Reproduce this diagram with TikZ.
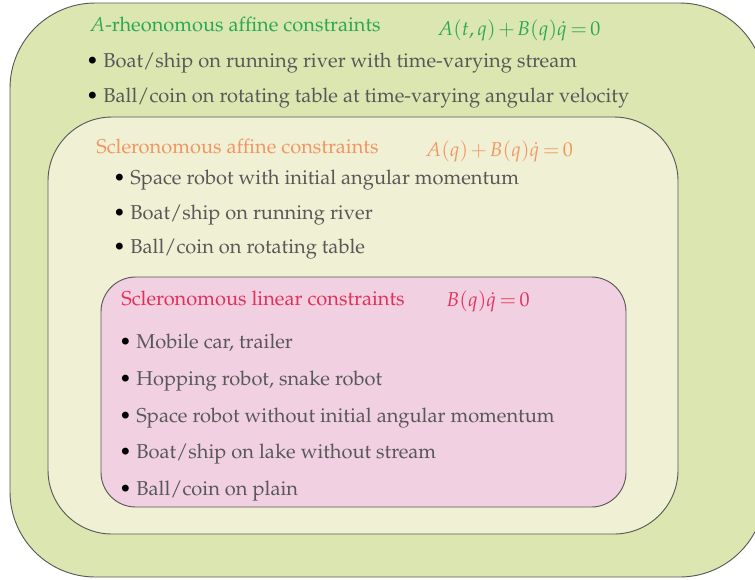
\documentclass[tikz,border=0pt]{standalone}
\usepackage[T1]{fontenc}
\usepackage{mathpazo}
\usepackage{tikz}

\definecolor{outerfill}{RGB}{220,230,176}
\definecolor{middlefill}{RGB}{240,240,212}
\definecolor{innerfill}{RGB}{240,208,225}
\definecolor{rheogreen}{RGB}{44,168,84}
\definecolor{sclorange}{RGB}{240,150,100}
\definecolor{sclred}{RGB}{228,48,88}
\definecolor{itemgray}{RGB}{88,88,88}

\tikzset{
  boxline/.style={draw=black!65, line width=0.7pt},
  title/.style={anchor=base west, inner sep=0pt, font=\fontsize{15.05}{18}\selectfont},
  formula/.style={title, execute at begin node={\medmuskip=2mu\thickmuskip=3mu}},
  entry/.style={anchor=base west, inner sep=0pt, text=itemgray, font=\fontsize{15.05}{18}\selectfont}
}

\begin{document}
\begin{tikzpicture}[x=0.75pt, y=-0.75pt]

        \useasboundingbox (0,0) rectangle (755,579);
        \clip (0,0) rectangle (755,579);

        %Boxes
        \draw [boxline, fill=outerfill, rounded corners=64pt] (10,3) rectangle (765,577);
        \draw [boxline, fill=middlefill, rounded corners=48pt] (48,117) rectangle (678,534);
        \draw [boxline, fill=innerfill, rounded corners=26pt] (101,277) rectangle (626,507);

        %Rheonomous affine constraints
        \node [title, text=rheogreen] (rheotitle) at (89,31) {$A$-rheonomous affine constraints};
        \node [formula, text=rheogreen] (rheoeq) at (437,35) {$A(t,q) + B(q)\dot{q} = 0$};
        \node [entry] (rheoa) at (86,67) {\textcolor{black}{\textbullet}\ Boat/ship on running river with time-varying stream};
        \node [entry] (rheob) at (86,102) {\textcolor{black}{\textbullet}\ Ball/coin on rotating table at time-varying angular velocity};

        %Scleronomous affine constraints
        \node [title, text=sclorange] (afftitle) at (96,153) {Scleronomous affine constraints};
        \node [formula, text=sclorange] (affeq) at (425,156) {$A(q) + B(q)\dot{q} = 0$};
        \node [entry] (affa) at (113,184) {\textcolor{black}{\textbullet}\ Space robot with initial angular momentum};
        \node [entry] (affb) at (113,219) {\textcolor{black}{\textbullet}\ Boat/ship on running river};
        \node [entry] (affc) at (113,253) {\textcolor{black}{\textbullet}\ Ball/coin on rotating table};

        %Scleronomous linear constraints
        \node [title, text=sclred] (lintitle) at (121,305) {Scleronomous linear constraints};
        \node [formula, text=sclred] (lineq) at (446,306) {$B(q)\dot{q} = 0$};
        \node [entry] (lina) at (119,348) {\textcolor{black}{\textbullet}\ Mobile car, trailer};
        \node [entry] (linb) at (119,385) {\textcolor{black}{\textbullet}\ Hopping robot, snake robot};
        \node [entry] (linc) at (119,422) {\textcolor{black}{\textbullet}\ Space robot without initial angular momentum};
        \node [entry] (lind) at (119,458) {\textcolor{black}{\textbullet}\ Boat/ship on lake without stream};
        \node [entry] (line) at (119,495) {\textcolor{black}{\textbullet}\ Ball/coin on plain};

\end{tikzpicture}
\end{document}
